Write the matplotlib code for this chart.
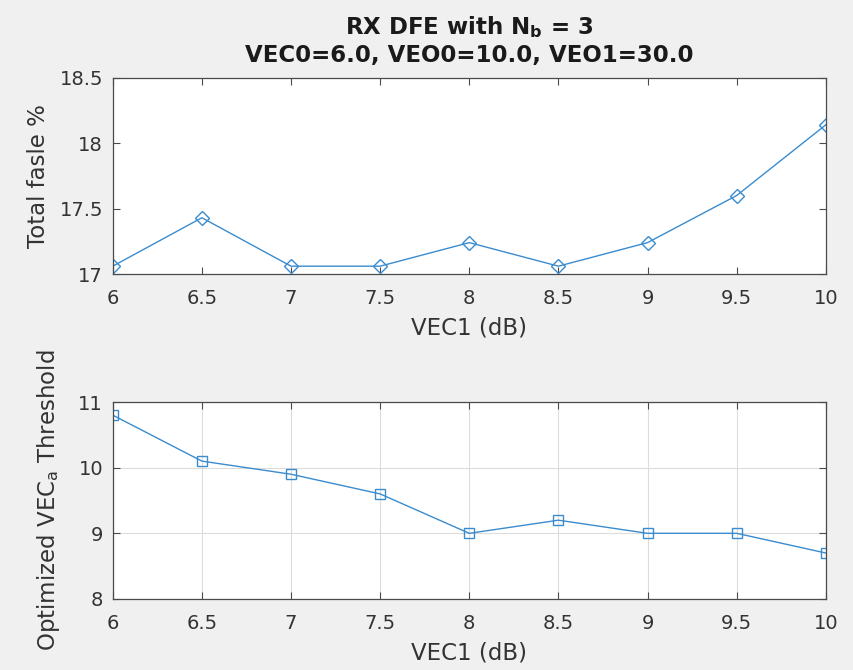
import matplotlib.pyplot as plt

# data
vec1 = [6, 6.5, 7, 7.5, 8, 8.5, 9, 9.5, 10]
total_false = [17.06, 17.43, 17.06, 17.06, 17.24, 17.06, 17.24, 17.60, 18.14]
threshold = [10.8, 10.1, 9.9, 9.6, 9.0, 9.2, 9.0, 9.0, 8.7]

x_ticks = [6, 6.5, 7, 7.5, 8, 8.5, 9, 9.5, 10]
x_ticklabels = ["6", "6.5", "7", "7.5", "8", "8.5", "9", "9.5", "10"]
top_yticks = [17, 17.5, 18, 18.5]
top_yticklabels = ["17", "17.5", "18", "18.5"]
bot_yticks = [8, 9, 10, 11]

line_color = "#3a8ccf"
axis_color = "#4a4a4a"
text_color = "#333333"

plt.rcParams["font.family"] = ["DejaVu Sans"]
plt.rcParams["mathtext.fontset"] = "dejavusans"

fig = plt.figure(figsize=(8.54, 6.70), dpi=100, facecolor="#f0f0f0")


def style_axes(ax):
    ax.set_facecolor("white")
    for s in ax.spines.values():
        s.set_color(axis_color)
        s.set_linewidth(0.9)
    ax.tick_params(direction="in", top=True, right=True, length=5,
                   colors=axis_color, labelcolor=text_color, labelsize=14)
    ax.tick_params(axis="x", pad=11)
    ax.tick_params(axis="y", pad=7)
    ax.set_xlim(6, 10)
    ax.set_xticks(x_ticks)
    ax.set_xticklabels(x_ticklabels)


# top panel
ax1 = fig.add_axes([0.132, 0.591, 0.835, 0.293])
ax1.plot(vec1, total_false, color=line_color, lw=1.0, marker="D", ms=7,
         mfc="none", mec=line_color, mew=1.0)
style_axes(ax1)
ax1.set_ylim(17, 18.5)
ax1.set_yticks(top_yticks)
ax1.set_yticklabels(top_yticklabels)
ax1.set_xlabel("VEC1 (dB)", fontsize=16.5, color=text_color, labelpad=6)
ax1.set_ylabel("Total fasle %", fontsize=16.5, color=text_color, labelpad=7)
ax1.set_title("RX DFE with N$_\\mathregular{b}$ = 3\nVEC0=6.0, VEO0=10.0, VEO1=30.0",
              fontsize=16.5, fontweight="bold", color="#1a1a1a", pad=11, linespacing=1.25)

# bottom panel
ax2 = fig.add_axes([0.132, 0.106, 0.835, 0.294])
ax2.plot(vec1, threshold, color=line_color, lw=1.0, marker="s", ms=7,
         mfc="none", mec=line_color, mew=1.0)
style_axes(ax2)
ax2.set_ylim(8, 11)
ax2.set_yticks(bot_yticks)
ax2.grid(True, color="#dcdcdc", lw=0.8)
ax2.set_axisbelow(True)
ax2.set_xlabel("VEC1 (dB)", fontsize=16.5, color=text_color, labelpad=6)
ax2.set_ylabel("Optimized VEC$_\\mathregular{a}$ Threshold", fontsize=16.5,
               color=text_color, labelpad=12)

fig.savefig("out.png", dpi=100, facecolor=fig.get_facecolor())
